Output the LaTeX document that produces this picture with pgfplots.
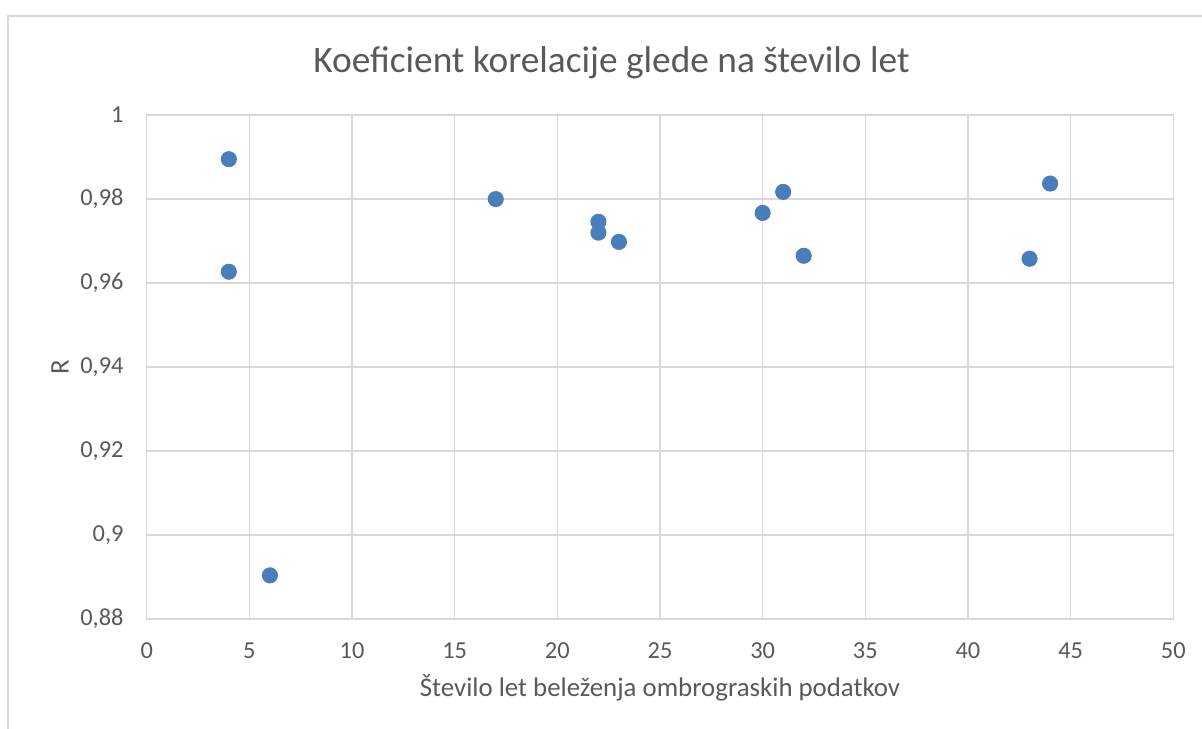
\documentclass[border=0pt]{standalone}
\usepackage{fontspec}
\setmainfont{Carlito}
\usepackage{pgfplots}
\pgfplotsset{compat=1.18}
\usepackage{pgfplotstable}
\definecolor{gridgray}{HTML}{D9D9D9}
\definecolor{txtgray}{HTML}{595959}
\definecolor{ptblue}{HTML}{4A7EBB}
\pgfplotstableread{
x y
4 0.9895
4 0.9627
6 0.8904
17 0.9800
22 0.9746
22 0.9720
23 0.9698
30 0.9767
31 0.9817
32 0.9665
43 0.9658
44 0.9837
}\datatable
\begin{document}
\begin{tikzpicture}
\useasboundingbox (0pt,0pt) rectangle (492.82pt,-298.89pt);
\begin{scope}
\clip (0pt,0pt) rectangle (492.82pt,-298.89pt);
\draw[gridgray, line width=0.6pt] (3.28pt,-310pt) -- (3.28pt,-6.56pt) -- (510pt,-6.56pt);
\end{scope}
\begin{axis}[
  at={(60.15pt,-253.79pt)}, anchor=south west,
  scale only axis, width=420.9pt, height=206.6pt,
  xmin=0, xmax=50, ymin=0.88, ymax=1,
  xtick={0,5,...,50},
  ytick={0.88,0.9,0.92,0.94,0.96,0.98,1},
  grid=major,
  major grid style={gridgray, line width=0.6pt},
  axis line style={gridgray, line width=0.6pt},
  major tick length=0pt,
  tick style={draw=none},
  /pgf/number format/assume math mode=true,
  /pgf/number format/use comma,
  /pgf/number format/fixed,
  /pgf/number format/precision=2,
  yticklabel style={font=\fontsize{10}{12}\selectfont, text=txtgray, inner sep=0pt, xshift=-9.3pt},
  xticklabel style={font=\fontsize{10}{12}\selectfont, text=txtgray, inner sep=0pt, yshift=-9.6pt},
  scaled y ticks=false,
]
\addplot[only marks, mark=*, mark size=3.1pt, mark options={fill=ptblue, draw=ptblue}] table[x=x, y=y] {\datatable};
\end{axis}
\node[text=txtgray, font=\fontsize{15.3}{18}\selectfont] at (250.7pt,-25.6pt) {Koeficient korelacije glede na število let};
\node[text=txtgray, font=\fontsize{11}{13}\selectfont, rotate=90] at (24.6pt,-150.5pt) {R};
\node[text=txtgray, font=\fontsize{11}{13}\selectfont] at (270.6pt,-282.2pt) {Število let beleženja ombrograskih podatkov};
\end{tikzpicture}
\end{document}
